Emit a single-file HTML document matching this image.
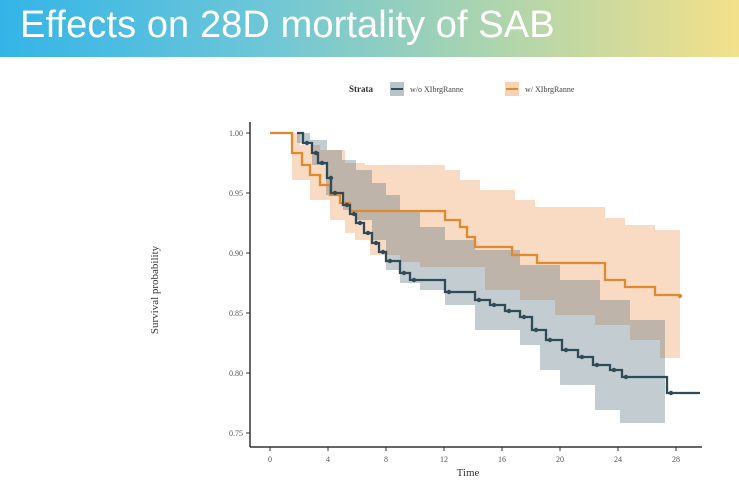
<!DOCTYPE html>
<html><head><meta charset="utf-8"><style>
body{margin:0;width:739px;height:500px;background:#fff;overflow:hidden;font-family:"Liberation Serif",serif}
.banner{position:absolute;left:0;top:0;width:739px;height:57px;background:linear-gradient(90deg,#33b4e8 0%,#6cc6d8 35%,#a9d4b0 65%,#f3e08a 100%)}
.banner span{position:absolute;left:20px;top:4px;font:38px "Liberation Sans",sans-serif;color:#fff;letter-spacing:0.1px}
svg{position:absolute;left:0;top:0}
</style></head><body>
<div class="banner"><span>Effects on 28D mortality of SAB</span></div>
<svg id="s" width="739" height="500" font-family="Liberation Serif, serif"></svg>
<script>
const s=document.getElementById('s');
function st(pts){let d='M'+pts[0][0]+' '+pts[0][1];for(let i=1;i<pts.length;i++){d+=' H'+pts[i][0]+' V'+pts[i][1];}return d;}
function band(up,lo,end){let d=st(up)+' H'+end;let r=lo.slice().reverse();d+=' V'+r[0][1];for(let i=0;i<r.length;i++){d+=' H'+r[i][0];if(i+1<r.length)d+=' V'+r[i+1][1];}return d+' Z';}
const oU=[[270,133],[300,145],[320,150],[345,163],[365,165],[445,170],[460,180],[480,190],[515,200],[535,207],[605,218],[625,225],[655,230]];
const oL=[[270,133],[292,180],[310,200],[330,220],[345,233],[355,240],[370,255],[400,262],[420,267],[485,290],[520,300],[555,315],[595,325],[630,340],[660,358]];
const bU=[[297,133],[310,140],[327,150],[342,160],[356,170],[372,183],[386,195],[400,210],[420,227],[445,240],[475,250],[520,265],[560,280],[600,300],[630,320]];
const bL=[[297,143],[312,165],[326,195],[343,210],[356,220],[372,240],[386,270],[400,283],[420,290],[445,305],[475,330],[520,345],[540,370],[560,385],[595,410],[620,423]];
const oLine=[[270,133],[292,153],[302,165],[310,175],[320,185],[330,195],[340,203],[350,211],[445,220],[460,227],[467,237],[475,247],[512,255],[537,263],[605,280],[625,287],[655,295]];
const bLine=[[297,133],[303,143],[312,153],[318,163],[327,178],[331,193],[343,205],[350,214],[356,223],[364,233],[372,243],[379,252],[386,261],[400,273],[410,280],[445,292],[475,300],[490,305],[505,311],[520,317],[532,330],[546,340],[562,350],[578,357],[593,365],[610,370],[622,377],[667,393]];
let h='';
h+=`<path d="${band(oU,oL,680)}" fill="#f0a36a" fill-opacity="0.4"/>`;
h+=`<path d="${band(bU,bL,665)}" fill="#4f6e7a" fill-opacity="0.35"/>`;
h+=`<path d="${st(oLine)} H680" fill="none" stroke="#e08a30" stroke-width="2.3"/>`;
h+=`<path d="${st(bLine)} H700" fill="none" stroke="#2f4b57" stroke-width="2.3"/>`;
bLine.slice(1).forEach(p=>{h+=`<circle cx="${p[0]+4}" cy="${p[1]}" r="2.2" fill="#2f4b57"/>`});
h+=`<circle cx="680" cy="296" r="2.2" fill="#e08a30"/>`;
h+=`<line x1="250" y1="122" x2="250" y2="447" stroke="#333" stroke-width="1.5"/><line x1="250" y1="447" x2="702" y2="447" stroke="#333" stroke-width="1.5"/>`;
const yl=['1.00','0.95','0.90','0.85','0.80','0.75'];
yl.forEach((t,i)=>{let y=133+i*60;h+=`<line x1="246" y1="${y}" x2="250" y2="${y}" stroke="#333"/><text x="243" y="${y+3}" font-size="8" text-anchor="end" fill="#555">${t}</text>`});
[0,4,8,12,16,20,24,28].forEach(v=>{let x=270+v*14.5;h+=`<line x1="${x}" y1="447" x2="${x}" y2="451" stroke="#333"/><text x="${x}" y="462" font-size="8" text-anchor="middle" fill="#555">${v}</text>`});
h+=`<text x="468" y="476" font-size="11" text-anchor="middle" fill="#333">Time</text>`;
h+=`<text transform="translate(158,290) rotate(-90)" font-size="11" text-anchor="middle" fill="#333">Survival probability</text>`;
h+=`<text x="349" y="92" font-size="9" font-weight="bold" fill="#333">Strata</text>`;
h+=`<rect x="390" y="82" width="14" height="14" fill="#b8c4c8"/><line x1="391" y1="89" x2="403" y2="89" stroke="#2f4b57" stroke-width="2"/>`;
h+=`<text x="410" y="92" font-size="8" fill="#444">w/o XIbrgRanne</text>`;
h+=`<rect x="505" y="82" width="14" height="14" fill="#f6d3b5"/><line x1="506" y1="89" x2="518" y2="89" stroke="#e08a30" stroke-width="2"/>`;
h+=`<text x="525" y="92" font-size="8" fill="#444">w/ XIbrgRanne</text>`;
s.innerHTML=h;
</script>
</body></html>
